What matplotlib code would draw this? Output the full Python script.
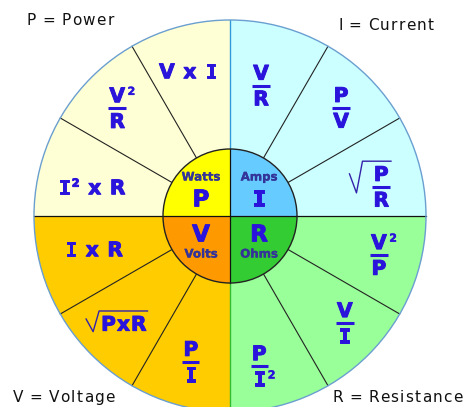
import matplotlib
matplotlib.use("Agg")
import matplotlib.pyplot as plt
from matplotlib.patches import Wedge, Circle
import matplotlib.patheffects as pe
import numpy as np

# ---------------- data ----------------
# quadrants counter-clockwise starting at 0 deg (upper right)
quantities = ["I", "P", "V", "R"]
unit_names = ["Amps", "Watts", "Volts", "Ohms"]
legend_labels = ["P = Power", "I = Current", "V = Voltage", "R = Resistance"]
# one formula per 30-degree sector, counter-clockwise from 0 deg
formula_kind = ["sqrtfrac", "frac", "frac", "text", "frac", "text",
                "text", "sqrt", "frac", "frac", "frac", "frac"]
formula_num = ["P", "P", "V", "V x I", "V²", "I² x R",
               "I x R", "PxR", "P", "P", "V", "V²"]
formula_den = ["R", "V", "R", "", "R", "", "", "", "I", "I²", "I", "P"]

# ---------------- layout / style ----------------
outer_colors = ["#CCFFFF", "#FFFFD5", "#FFCC00", "#99FF99"]
inner_colors = ["#66CCFF", "#FFFF00", "#FF9900", "#33CC33"]
label_polar = [(10.9, 154), (44.2, 155), (76.6, 134), (106.1, 151),
               (136.3, 156), (168.1, 141), (193.6, 140), (225.3, 151),
               (255.0, 151), (281.0, 153), (317.0, 157), (345.3, 154)]
FC = "#2A14DC"
SMALLC = "#333399"
FS = 14.5
PX = 100 / 72.0

W, H = 466, 407
fig = plt.figure(figsize=(W / 100, H / 100), dpi=100)
ax = fig.add_axes([0, 0, 1, 1])
ax.set_xlim(0, W)
ax.set_ylim(0, H)
ax.axis("off")
renderer = fig.canvas.get_renderer()

cx, cy = 230, 191
R_out, R_in = 196, 67

for k in range(4):
    ax.add_patch(Wedge((cx, cy), R_out, 90 * k, 90 * (k + 1),
                       facecolor=outer_colors[k], edgecolor="none", zorder=1))
for a in range(0, 360, 30):
    if a % 90:
        t = np.deg2rad(a)
        ax.plot([cx + R_in * np.cos(t), cx + R_out * np.cos(t)],
                [cy + R_in * np.sin(t), cy + R_out * np.sin(t)],
                color="#222222", lw=0.8, zorder=2)
ax.plot([cx - R_out, cx + R_out], [cy, cy], color="#111111", lw=0.9, zorder=2)
ax.plot([cx, cx], [cy, cy + R_out], color="#3399DD", lw=1.0, zorder=2)
ax.plot([cx, cx], [cy - R_out, cy], color="#33BB33", lw=1.0, zorder=2)
ax.add_patch(Circle((cx, cy), R_out, facecolor="none", edgecolor="#6A9FD0",
                    lw=1.0, zorder=3))
for k in range(4):
    ax.add_patch(Wedge((cx, cy), R_in, 90 * k, 90 * (k + 1),
                       facecolor=inner_colors[k], edgecolor="none", zorder=4))
ax.plot([cx - R_in, cx + R_in], [cy, cy], color="#111111", lw=0.9, zorder=5)
ax.plot([cx, cx], [cy - R_in, cy + R_in], color="#111111", lw=0.9, zorder=5)
ax.add_patch(Circle((cx, cy), R_in, facecolor="none", edgecolor="#222222",
                    lw=1.0, zorder=5))


def cap(fs):
    return 0.729 * fs * PX


def char_font(ch, weight="bold"):
    return "DejaVu Sans Mono" if (ch == "I" and weight == "bold") else "DejaVu Sans"


def char_w(ch, fs, weight="bold"):
    t = ax.text(0, 0, ch, fontsize=fs, family=char_font(ch, weight), weight=weight)
    w = t.get_window_extent(renderer).width
    t.remove()
    return w


def thick(color, w=0.7):
    return [pe.withStroke(linewidth=w, foreground=color)]


def run(xc, base, s, fs=FS, color=FC, track=1.0, align="center",
        weight="bold", heavy=True, space=0.33):
    items = []
    for ch in s:
        if ch == " ":
            items.append((None, space * fs * PX, 0, fs))
        elif ch == "²":
            f2 = fs * 0.55
            items.append(("2", char_w("2", f2), cap(fs) * 0.52, f2))
        else:
            items.append((ch, char_w(ch, fs, weight), 0, fs))
    total = sum(i[1] for i in items) + track * (len(items) - 1)
    x = xc - total / 2 if align == "center" else xc
    left = x
    for ch, w, dy, f in items:
        if ch is not None:
            ax.text(x, base + dy, ch, fontsize=f, family=char_font(ch, weight),
                    weight=weight, color=color, ha="left", va="baseline",
                    zorder=6, path_effects=thick(color) if heavy else None)
        x += w + track
    return left, x - track


def stacked(xc, base, s, fs=FS):
    main = s.replace("²", "")
    l, r = run(xc, base, main, fs)
    if "²" in s:
        f2 = fs * 0.55
        ax.text(r + 2.5, base + cap(fs) * 0.5, "2", fontsize=f2,
                weight="bold", color=FC, ha="left", va="baseline", zorder=6,
                path_effects=thick(FC, 0.3))
    return l, r


def frac(xc, yc, num, den, fs=FS):
    c = cap(fs)
    l1, r1 = stacked(xc, yc + 6, num, fs)
    l2, r2 = stacked(xc, yc - 5 - c, den, fs)
    w = max(r1 - l1, r2 - l2) + 2
    ax.plot([xc - w / 2, xc + w / 2], [yc, yc], color=FC, lw=2.2,
            solid_capstyle="butt", zorder=6)
    return xc - w / 2, xc + w / 2, yc + 6 + c


def sqrt_sign(left, right, top, bottom, arm_y):
    ax.plot([left - 15, left - 8, left - 2, right + 1],
            [arm_y, bottom, top, top], color="#3322AA", lw=1.0, zorder=6)


for i in range(12):
    ang, rr = label_polar[i]
    t = np.deg2rad(ang)
    x, y = cx + rr * np.cos(t), cy + rr * np.sin(t)
    kind = formula_kind[i]
    c = cap(FS)
    if kind == "text":
        run(x, y - c / 2, formula_num[i], track=1.0)
    elif kind == "frac":
        frac(x, y, formula_num[i], formula_den[i])
    elif kind == "sqrt":
        l, r = run(x, y - c / 2, formula_num[i], track=1.0)
        sqrt_sign(l, r, y + c / 2 + 5, y - c / 2 - 1, y + c / 2 - 3)
    elif kind == "sqrtfrac":
        l, r, top = frac(x, y, formula_num[i], formula_den[i])
        sqrt_sign(l - 8, r, top + 5, y - 6, y + 13)

# inner circle labels
inner_dx = [29, -29, -29, 29]
for k in range(4):
    upper = k < 2
    x = cx + inner_dx[k]
    big_c = cap(16.5)
    if upper:
        run(x, cy + 18 - big_c / 2, quantities[k], fs=16.5)
        ax.text(x, cy + 39, unit_names[k], fontsize=8.5, weight="bold",
                color=SMALLC, ha="center", va="center", zorder=6,
                path_effects=thick(SMALLC, 0.2))
    else:
        run(x, cy - 17 - big_c / 2, quantities[k], fs=16.5)
        ax.text(x, cy - 38, unit_names[k], fontsize=8.5, weight="bold",
                color=SMALLC, ha="center", va="center", zorder=6,
                path_effects=thick(SMALLC, 0.2))

# corner legend texts
corner_xy = [(27, 382), (338, 377), (13, 5), (332, 5)]
for (tx, ty), lab in zip(corner_xy, legend_labels):
    run(tx, ty, lab, fs=11, color="#111111", track=1.2, align="left",
        weight="normal", heavy=False, space=0.26)

fig.savefig("out.png", dpi=100)
